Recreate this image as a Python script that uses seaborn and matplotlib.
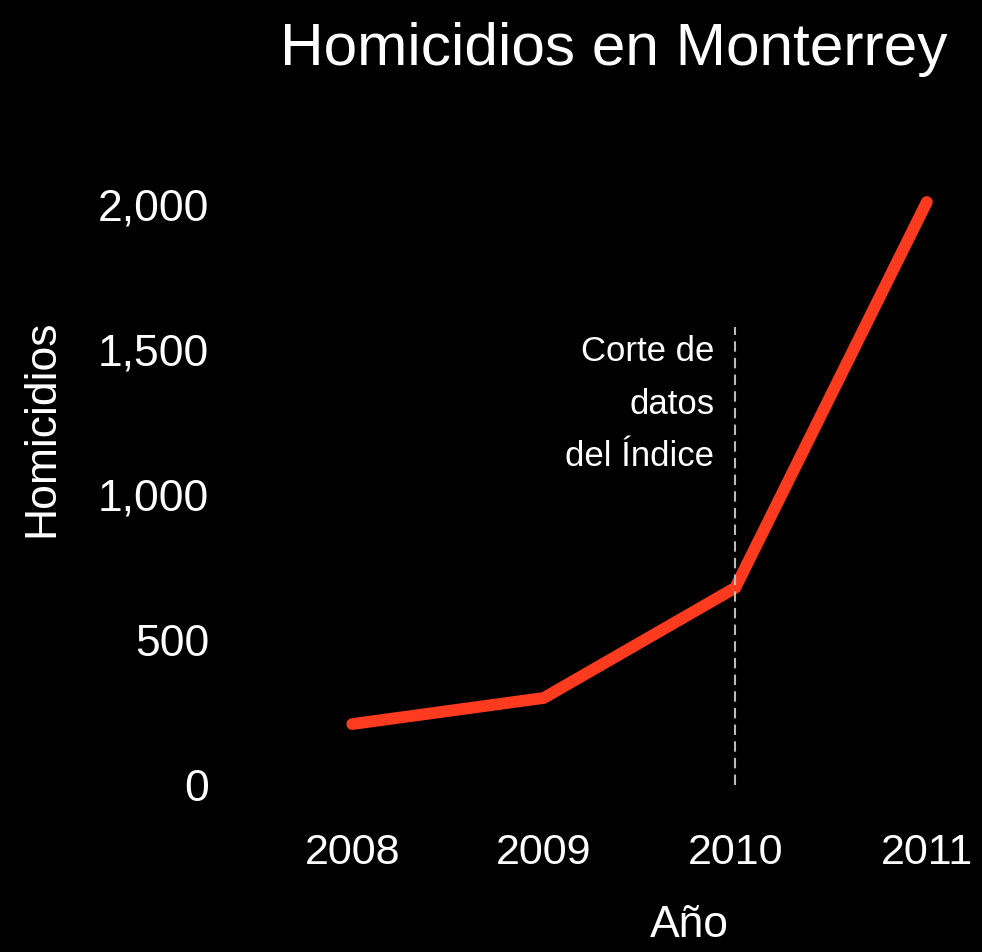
import matplotlib
matplotlib.use('Agg')
import matplotlib.pyplot as plt
import seaborn as sns
import pandas as pd
from matplotlib.ticker import FuncFormatter

# data
years = [2008, 2009, 2010, 2011]
homicides = [210, 300, 680, 2010]
y_ticks = [0, 500, 1000, 1500, 2000]
cutoff_year = 2010
cutoff_top = 1580

df = pd.DataFrame({'Año': years, 'Homicidios': homicides})

sns.set_theme(style="dark")
plt.rcParams['font.family'] = ['Liberation Sans Narrow', 'Liberation Sans', 'DejaVu Sans']

fig = plt.figure(figsize=(9.82, 9.52), dpi=100, facecolor='black')
ax = fig.add_axes([0.23, 0.1597, 0.73, 0.6408])
ax.set_facecolor('black')

sns.lineplot(data=df, x='Año', y='Homicidios', color='#FF3B1F', linewidth=8.5,
             solid_capstyle='round', solid_joinstyle='miter', ax=ax)

# data cutoff marker
ax.vlines(cutoff_year, 0, cutoff_top, colors='#BBBBBB', linestyles=(0, (5, 3)), linewidth=1.5)
ax.text(cutoff_year - 0.11, cutoff_top - 30, 'Corte de\ndatos\ndel Índice', color='white',
        fontsize=25, ha='right', va='top', linespacing=1.75)

ax.set_xlim(2007.34, 2011.083)
ax.set_ylim(-51.7, 2051.7)
ax.set_xticks(years)
ax.set_xticklabels([str(y) for y in years])
ax.set_yticks(y_ticks)
ax.yaxis.set_major_formatter(FuncFormatter(lambda v, p: f'{int(v):,}'))
ax.tick_params(axis='y', colors='white', labelsize=32, length=0, pad=12)
ax.tick_params(axis='x', colors='white', labelsize=31, length=0, pad=24)
ax.grid(False)
for s in ax.spines.values():
    s.set_visible(False)

ax.set_xlabel('Año', color='white', fontsize=32)
ax.set_ylabel('Homicidios', color='white', fontsize=32)
ax.xaxis.set_label_coords(0.647, -0.172)
ax.yaxis.set_label_coords(-0.228, 0.61)

fig.text(0.965, 0.977, 'Homicidios en Monterrey', color='white', fontsize=43.5,
         ha='right', va='top')

fig.savefig('out.png', dpi=100, facecolor='black')
